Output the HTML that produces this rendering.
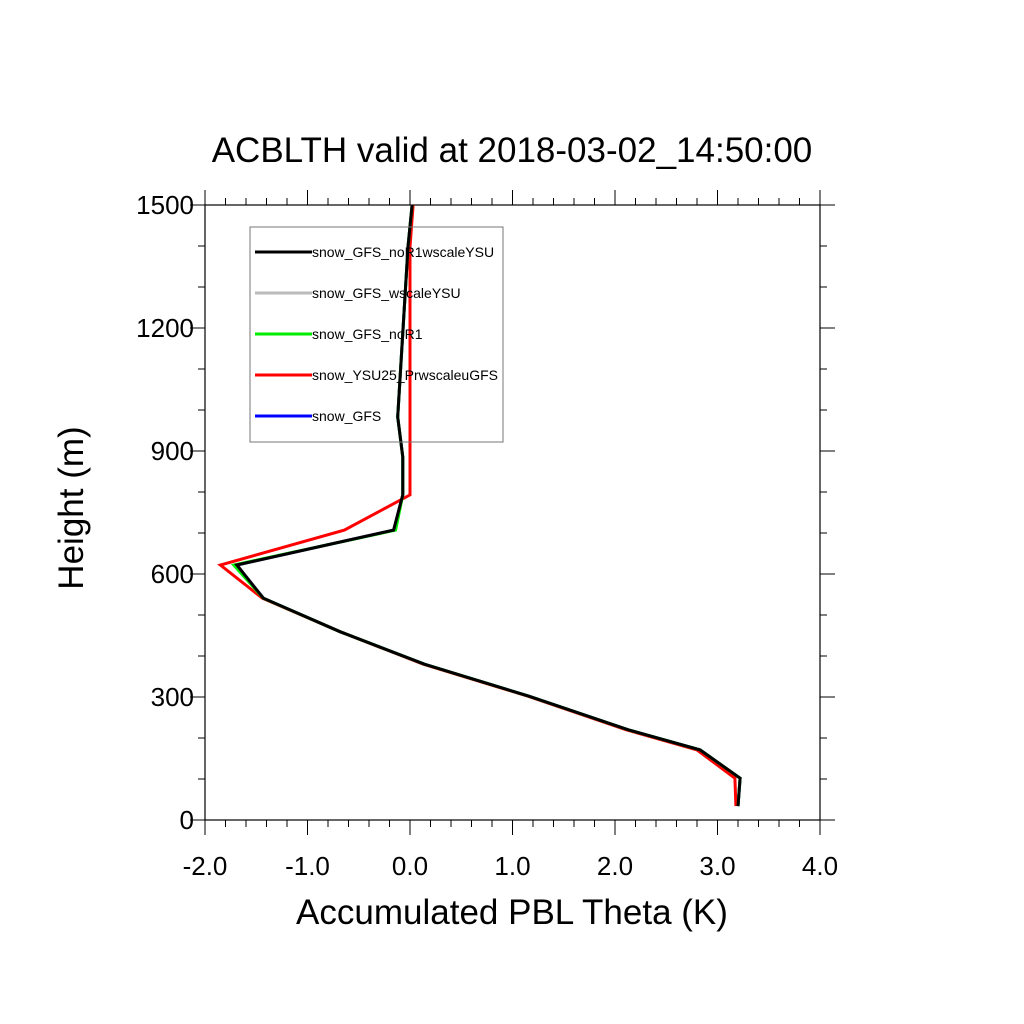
<!DOCTYPE html>
<html><head><meta charset="utf-8"><style>body{margin:0;background:#fff}svg{display:block;font-family:"Liberation Sans",sans-serif}</style></head>
<body>
<svg id="chart" width="1024" height="1024">
<text x="512" y="162" text-anchor="middle" font-size="35">ACBLTH valid at 2018-03-02_14:50:00</text>
<g id="axes"></g>
<g id="series"></g>
<g id="legend"></g>
<text x="512" y="924" text-anchor="middle" font-size="35">Accumulated PBL Theta (K)</text>
<text transform="translate(83,508) rotate(-90)" text-anchor="middle" font-size="35">Height (m)</text>
</svg>
<script>
const heights=[1500,1398,983,885,793,707,622,541,459,380,302,220,171,102,34];
const noR1wscale=[0.02,-0.02,-0.12,-0.07,-0.07,-0.16,-1.69,-1.43,-0.68,0.14,1.16,2.13,2.83,3.22,3.20];
const wscaleYSU=[0.02,-0.02,-0.12,-0.07,-0.07,-0.16,-1.69,-1.43,-0.68,0.14,1.16,2.13,2.83,3.22,3.20];
const noR1=[0.02,-0.02,-0.12,-0.07,-0.07,-0.14,-1.72,-1.43,-0.68,0.14,1.16,2.13,2.83,3.22,3.20];
const ysu25=[0.03,0.0,0.0,0.0,0.0,-0.64,-1.85,-1.44,-0.68,0.13,1.15,2.11,2.80,3.17,3.18];
const gfs=[0.02,-0.02,-0.12,-0.07,-0.07,-0.16,-1.69,-1.43,-0.68,0.14,1.16,2.13,2.83,3.22,3.20];
const xTicks=[-2,-1,0,1,2,3,4];
const xTickLabels=["-2.0","-1.0","0.0","1.0","2.0","3.0","4.0"];
const yTicks=[0,300,600,900,1200,1500];
const legendNames=["snow_GFS_noR1wscaleYSU","snow_GFS_wscaleYSU","snow_GFS_noR1","snow_YSU25_PrwscaleuGFS","snow_GFS"];
const NS="http://www.w3.org/2000/svg";
const L=205,R=820,T=205,B=820;
const xs=v=>L+(v+2)/6*(R-L);
const ys=v=>B-v/1500*(B-T);
function mk(tag,attrs,parent){const e=document.createElementNS(NS,tag);for(const k in attrs)e.setAttribute(k,attrs[k]);parent.appendChild(e);return e;}
const ax=document.getElementById('axes');
const frame=mk('rect',{x:L,y:T,width:R-L,height:B-T,fill:'none',stroke:'#000','stroke-width':1.2},ax);


for(let v=-2;v<=4.001;v+=0.2){const x=xs(v);const maj=Math.abs(v-Math.round(v))<1e-6;const len=maj?15:7;
 const t1=mk('line',{x1:x,x2:x,y1:B,y2:B+len,stroke:'#000','stroke-width':1},ax);
 
 
 const t2=mk('line',{x1:x,x2:x,y1:T,y2:T-len,stroke:'#000','stroke-width':1},ax);
 
 }
xTicks.forEach((v,i)=>{const t=mk('text',{x:xs(v),y:875,'text-anchor':'middle','font-size':26},ax);t.textContent=xTickLabels[i];
 
 });
for(let v=0;v<=1500;v+=100){const y=ys(v);const maj=v%300===0;const len=maj?15:7;
 const t1=mk('line',{x1:L,x2:L-len,y1:y,y2:y,stroke:'#000','stroke-width':1},ax);
 
 
 const t2=mk('line',{x1:R,x2:R+len,y1:y,y2:y,stroke:'#000','stroke-width':1},ax);
 
 }
yTicks.forEach(v=>{const t=mk('text',{x:194,y:ys(v)+9,'text-anchor':'end','font-size':26},ax);t.textContent=String(v);
 
 });
const sg=document.getElementById('series');
const series=[[gfs,'#0000ff','series-snow-gfs'],[wscaleYSU,'#bbbbbb','series-snow-gfs-wscaleysu'],[ysu25,'#ff0000','series-snow-ysu25'],[noR1,'#00ee00','series-snow-gfs-nor1'],[noR1wscale,'#000000','series-snow-gfs-nor1wscaleysu']];
series.forEach(([vals,col,name])=>{const d=vals.map((v,i)=>(i?'L':'M')+xs(v).toFixed(1)+','+ys(heights[i]).toFixed(1)).join('');
 const p=mk('path',{d:d,fill:'none',stroke:col,'stroke-width':3,'stroke-linejoin':'miter'},sg);
 
 });
const lg=document.getElementById('legend');
const box=mk('rect',{x:250,y:227,width:253,height:215,fill:'none',stroke:'#777','stroke-width':1},lg);


const lcol=['#000000','#bbbbbb','#00ee00','#ff0000','#0000ff'];
legendNames.forEach((n,i)=>{const y=252+i*41;
 const l=mk('line',{x1:255,x2:312,y1:y,y2:y,stroke:lcol[i],'stroke-width':3},lg);
 
 
 const t=mk('text',{x:312,y:y+5,'font-size':14},lg);t.textContent=n;
 
 });
</script>
</body></html>
